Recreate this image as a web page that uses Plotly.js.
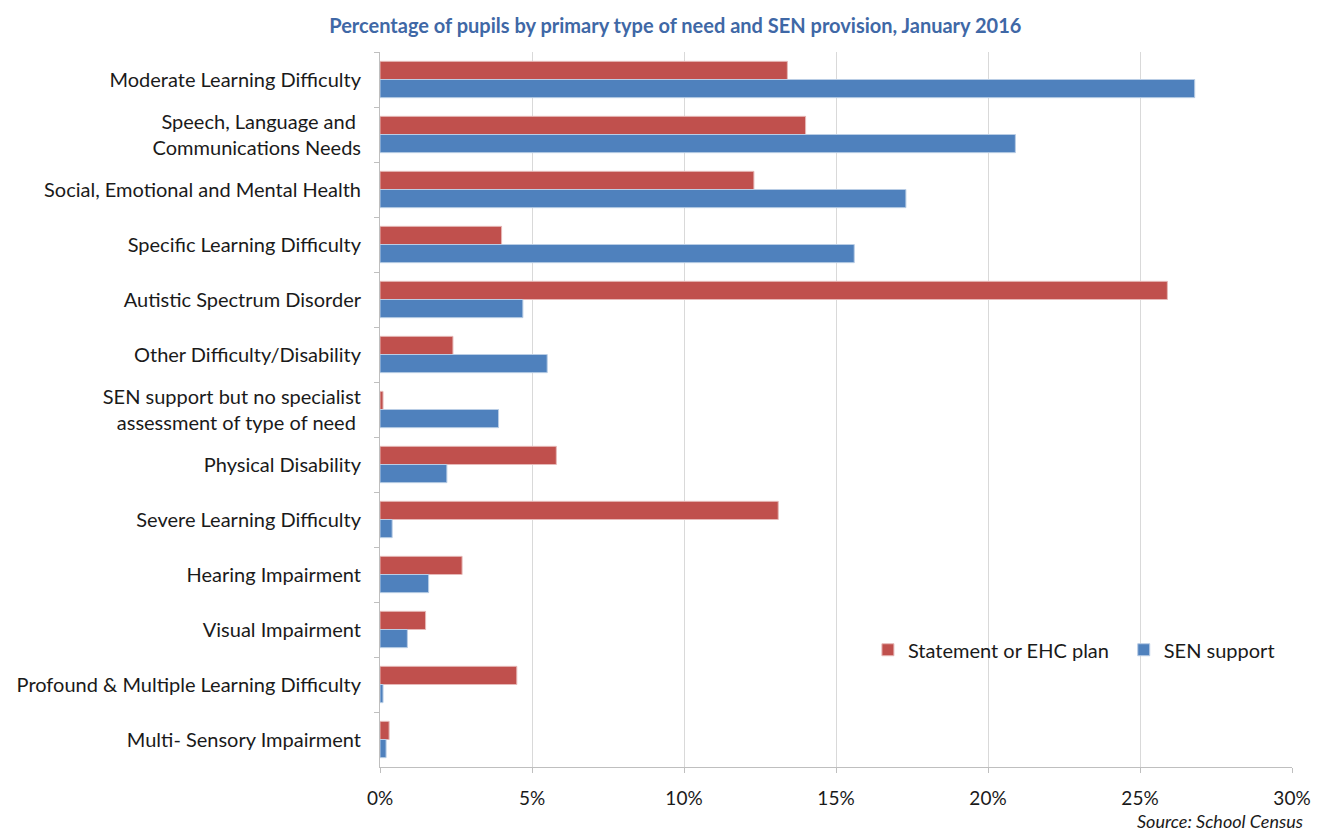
<!DOCTYPE html>
<html>
<head>
<meta charset="utf-8">
<script src="https://cdn.plot.ly/plotly-3.0.1.min.js"></script>
<style>html,body{margin:0;padding:0;background:#fff;}#chart{width:1319px;height:834px;}</style>
</head>
<body>
<div id="chart"></div>
<script>
const categories = [
  "Moderate Learning Difficulty",
  "Speech, Language and <br>Communications Needs",
  "Social, Emotional and Mental Health",
  "Specific Learning Difficulty",
  "Autistic Spectrum Disorder",
  "Other Difficulty/Disability",
  "SEN support but no specialist<br>assessment of type of need ",
  "Physical Disability",
  "Severe Learning Difficulty",
  "Hearing Impairment",
  "Visual Impairment",
  "Profound & Multiple Learning Difficulty",
  "Multi- Sensory Impairment"
];
const statementEHC = [13.4, 14.0, 12.3, 4.0, 25.9, 2.4, 0.1, 5.8, 13.1, 2.7, 1.5, 4.5, 0.3];
const senSupport   = [26.8, 20.9, 17.3, 15.6, 4.7, 5.5, 3.9, 2.2, 0.4, 1.6, 0.9, 0.1, 0.2];
const seriesNames = ["Statement or EHC plan", "SEN support"];
const xTickVals = [0, 5, 10, 15, 20, 25, 30];
const xTickText = ["0%", "5%", "10%", "15%", "20%", "25%", "30%"];

const font = "Lato, 'Open Sans', sans-serif";
const traces = [
  {type: "bar", orientation: "h", name: seriesNames[0], y: categories, x: statementEHC, legend: "legend",
   marker: {color: "#c0504d", line: {color: "#e6b9b8", width: 1}}, hoverinfo: "x+y"},
  {type: "bar", orientation: "h", name: seriesNames[1], y: categories, x: senSupport, legend: "legend2",
   marker: {color: "#4f81bd", line: {color: "#b9cde5", width: 1}}, hoverinfo: "x+y"}
];
const legendBase = {orientation: "h", y: 0.164, xanchor: "left", yanchor: "middle",
  font: {family: font, size: 20, color: "#1a1a1a"}, bgcolor: "rgba(0,0,0,0)", itemwidth: 30};
const layout = {
  width: 1319, height: 834,
  margin: {l: 380, r: 27, t: 52, b: 67},
  paper_bgcolor: "#fff", plot_bgcolor: "#fff",
  barmode: "group", bargap: 0.34, bargroupgap: 0,
  font: {family: font, size: 20, color: "#1a1a1a"},
  title: {text: "<b>Percentage of pupils by primary type of need and SEN provision, January 2016</b>",
          font: {family: font, size: 20, color: "#3f68a6"}, x: 0.512, xanchor: "center", y: 0.969, yanchor: "middle"},
  xaxis: {range: [0, 30], tickmode: "array", tickvals: xTickVals, ticktext: xTickText, showgrid: true, gridcolor: "#d9d9d9", gridwidth: 1,
          zeroline: false, showline: true, linecolor: "#bfbfbf", ticks: "outside", ticklen: 5, tickcolor: "#bfbfbf",
          ticklabelstandoff: 9,
          tickfont: {family: font, size: 19, color: "#1a1a1a"}, fixedrange: true},
  yaxis: {autorange: "reversed", type: "category", showline: true, linecolor: "#bfbfbf", ticks: "outside",
          tickson: "boundaries", ticklen: 5, tickcolor: "#bfbfbf", showgrid: false, ticklabelstandoff: 14,
          tickfont: {family: font, size: 20, color: "#1a1a1a"}, fixedrange: true},
  legend: Object.assign({}, legendBase, {x: 0.535}),
  legend2: Object.assign({}, legendBase, {x: 0.8155}),
  annotations: [{text: "<i>Source: School Census</i>", xref: "paper", yref: "paper", x: 1.014, y: -0.076,
                 xanchor: "right", yanchor: "middle", showarrow: false,
                 font: {family: font, size: 18, color: "#1a1a1a"}}],
  showlegend: true
};
Plotly.newPlot("chart", traces, layout, {displayModeBar: false, staticPlot: true});
</script>
</body>
</html>
